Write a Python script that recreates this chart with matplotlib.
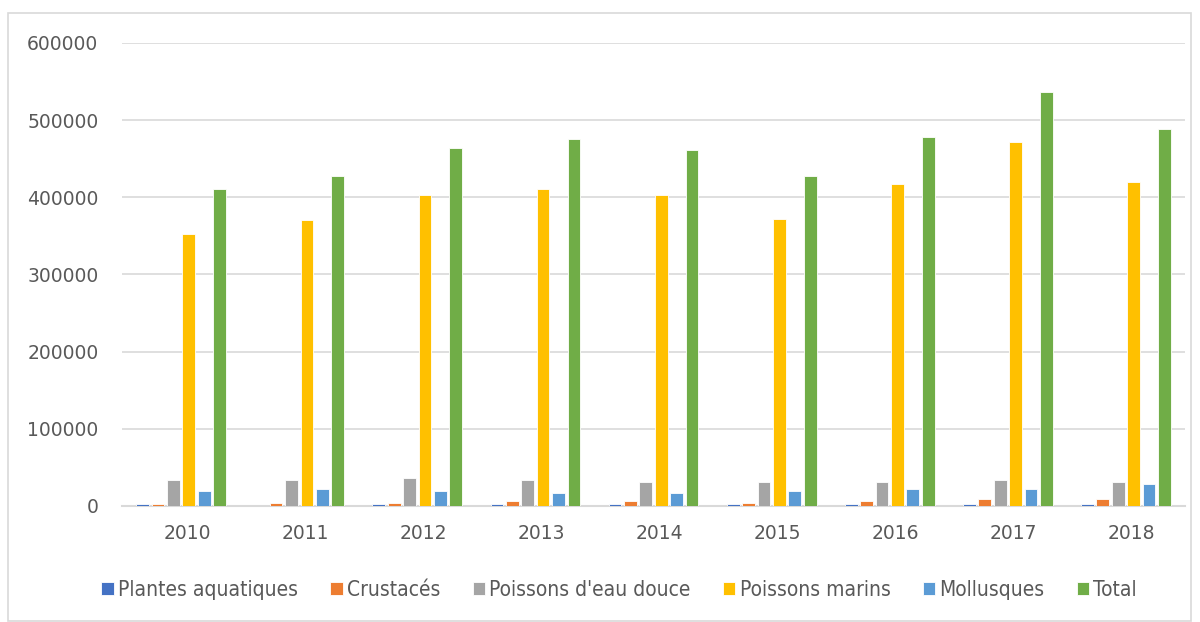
import numpy as np
import matplotlib
matplotlib.use("Agg")
import matplotlib.pyplot as plt
from matplotlib.patches import Rectangle

# Production par type, 2010-2018
annees = ["2010", "2011", "2012", "2013", "2014", "2015", "2016", "2017", "2018"]
plantes = [2600, 0, 2600, 2600, 2600, 2600, 2600, 2600, 2600]
crustaces = [2600, 3500, 3900, 6500, 6500, 3900, 6500, 9000, 9000]
eau_douce = [33700, 33700, 36700, 33700, 31000, 31000, 31000, 33700, 31000]
marins = [352000, 370000, 403000, 411000, 403000, 372000, 417000, 472000, 420000]
mollusques = [19800, 22400, 19800, 17000, 17000, 19800, 22400, 22400, 28500]
total = [411000, 427000, 464000, 475000, 461000, 427000, 478000, 536000, 488000]

series = [
    ("Plantes aquatiques", plantes, "#4472C4"),
    ("Crustacés", crustaces, "#ED7D31"),
    ("Poissons d'eau douce", eau_douce, "#A5A5A5"),
    ("Poissons marins", marins, "#FFC000"),
    ("Mollusques", mollusques, "#5B9BD5"),
    ("Total", total, "#70AD47"),
]

fig = plt.figure(figsize=(12, 6.22), dpi=100)
ax = fig.add_axes([0.1017, 0.1865, 0.8858, 0.7444])

# outer chart frame
fig.patches.append(Rectangle((8 / 1200, 0.002), 1183 / 1200, 1 - 13 / 622 - 0.002,
                             transform=fig.transFigure, fill=False,
                             edgecolor="#D9D9D9", linewidth=1.2))

x = np.arange(len(annees))
step = 0.1304
width = 0.108
for i, (nom, vals, couleur) in enumerate(series):
    ax.bar(x + (i - 2.5) * step, vals, width, color=couleur, label=nom,
           edgecolor="white", linewidth=0.6, zorder=3)

ax.set_xlim(-0.5, len(annees) - 0.5)
ax.set_ylim(0, 600000)
ax.set_yticks(np.arange(0, 600001, 100000))
ax.set_yticklabels([str(v) for v in range(0, 600001, 100000)])
ax.set_xticks(x + 0.05)
ax.set_xticklabels(annees)
ax.tick_params(axis="y", length=0, pad=17, labelsize=13.5, labelcolor="#595959")
ax.tick_params(axis="x", length=0, pad=13, labelsize=13.5, labelcolor="#595959")
ax.grid(axis="y", color="#D9D9D9", linewidth=1.2, zorder=0)
for s in ["top", "right", "left"]:
    ax.spines[s].set_visible(False)
ax.spines["bottom"].set_color("#D9D9D9")
ax.spines["bottom"].set_linewidth(1.5)

leg = fig.legend(loc="center", bbox_to_anchor=(0.516, 1 - 590 / 622), ncol=6,
                 frameon=False, handlelength=0.6, handleheight=0.6,
                 handletextpad=0.2, columnspacing=1.55,
                 prop={"size": 15, "stretch": "condensed"})
for t in leg.get_texts():
    t.set_color("#595959")

fig.savefig("out.png", dpi=100)
